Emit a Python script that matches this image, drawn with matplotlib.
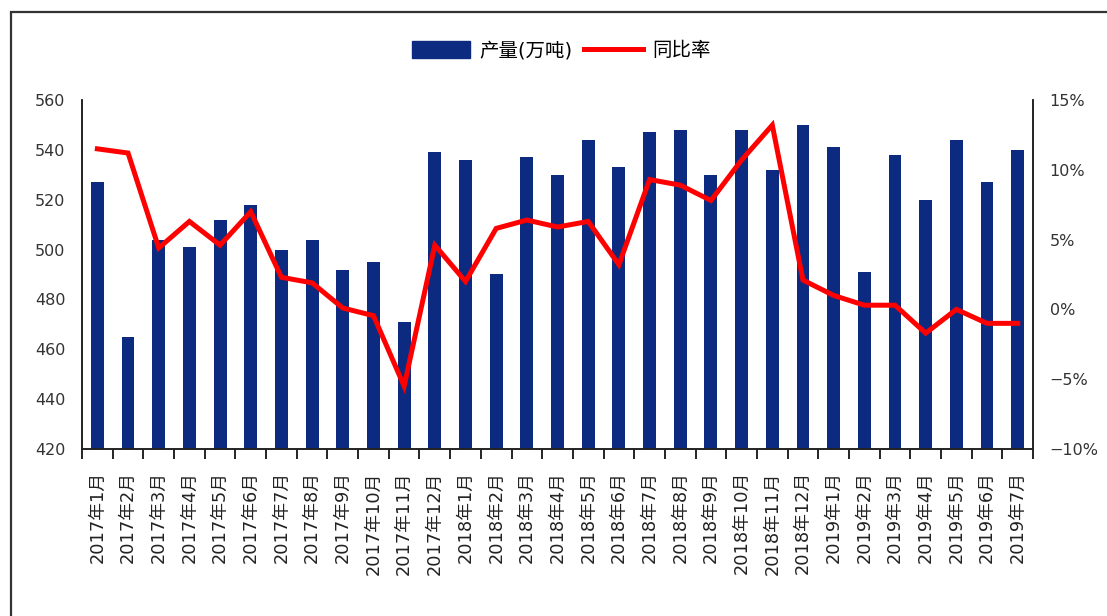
import numpy as np
import matplotlib
matplotlib.use('Agg')
import matplotlib.pyplot as plt
from matplotlib.patches import Rectangle
from matplotlib.lines import Line2D

plt.rcParams['font.family'] = ['DejaVu Sans', 'Noto Sans CJK SC']

# month labels
months = ['2017年%d月' % m for m in range(1, 13)] + \
         ['2018年%d月' % m for m in range(1, 13)] + \
         ['2019年%d月' % m for m in range(1, 8)]

# output (10k tons)
output = [527, 465, 504, 501, 512, 518, 500, 504, 492, 495, 471, 539,
          536, 490, 537, 530, 544, 533, 547, 548, 530, 548, 532, 550,
          541, 491, 538, 520, 544, 527, 540]

# year-on-year rate (%)
yoy = [11.5, 11.2, 4.4, 6.3, 4.6, 7.0, 2.3, 1.9, 0.1, -0.45, -5.5, 4.6,
       2.0, 5.8, 6.4, 5.9, 6.3, 3.2, 9.3, 8.9, 7.8, 10.7, 13.2, 2.1,
       1.0, 0.3, 0.3, -1.7, 0.0, -1.0, -1.0]

x = np.arange(len(months))
navy = '#0B2A80'
red = '#FF0000'

fig = plt.figure(figsize=(11.07, 6.16), dpi=100)
ax = fig.add_axes([0.0741, 0.2711, 0.8591, 0.5666])
ax2 = ax.twinx()

ax.bar(x, output, 0.42, color=navy, zorder=2)
ax2.plot(x, yoy, color=red, lw=3.6, solid_joinstyle='miter', zorder=3)

ax.set_xlim(-0.5, len(months) - 0.5)
ax.set_ylim(420, 560)
ax.set_yticks(np.arange(420, 561, 20))
ax2.set_ylim(-10, 15)
ax2.set_yticks(np.arange(-10, 16, 5))
ax2.set_yticklabels([('%d%%' % v).replace('-', '\u2212') for v in range(-10, 16, 5)])

ax.set_xticks(x)
ax.set_xticklabels(months, rotation=90, fontsize=12.8, va='top', color='#222222')
ax.set_xticks(np.arange(-0.5, len(months), 1), minor=True)
ax.tick_params(axis='x', which='major', length=0, pad=16)
ax.tick_params(axis='x', which='minor', length=7, direction='out', width=1.2)

# little inward tick at top of each value axis
ax.tick_params(axis='y', which='major', length=0, pad=12, labelsize=11.5, labelcolor='#333333')
ax.set_yticks([560], minor=True)
ax.tick_params(axis='y', which='minor', length=9, direction='in', width=1.2)
ax2.tick_params(axis='y', which='major', length=0, pad=12, labelsize=11.5, labelcolor='#333333')
ax2.set_yticks([15], minor=True)
ax2.tick_params(axis='y', which='minor', length=9, direction='in', width=1.2)

for a in (ax, ax2):
    a.spines['top'].set_visible(False)
    for s in ('left', 'right', 'bottom'):
        a.spines[s].set_linewidth(1.2)
        a.spines[s].set_color('#222222')

handles = [Rectangle((0, 0), 1, 1, color=navy),
           Line2D([], [], color=red, lw=3.6)]
fig.legend(handles, ['产量(万吨)', '同比率'], loc='center', ncol=2,
           bbox_to_anchor=(0.507, 0.918), frameon=False, fontsize=14,
           handlelength=3.0, handleheight=1.0, columnspacing=0.6, handletextpad=0.5)

# outer frame (left and top edges visible)
fig.patches.append(Rectangle((11 / 1107, -0.1), 1.2, 1.1 - 12 / 616,
                             transform=fig.transFigure, fill=False,
                             ec='#333333', lw=1.6))

fig.savefig('out.png', dpi=100)
